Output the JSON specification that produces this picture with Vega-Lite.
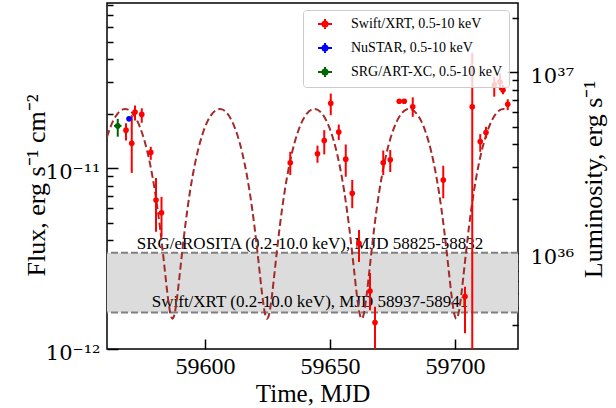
{
  "$schema": "https://vega.github.io/schema/vega-lite/v6.json",
  "width": 411,
  "height": 346,
  "autosize": {"type": "none"},
  "padding": {"left": 107, "top": 3, "right": 98, "bottom": 59},
  "background": "white",
  "config": {
    "view": {"stroke": "black", "strokeWidth": 1.5},
    "axis": {"grid": false, "domain": false, "tickColor": "black", "tickWidth": 1.5, "labelColor": "black", "titleColor": "black", "titleFontWeight": "normal", "titleFont": "Liberation Serif", "labelFont": "Liberation Serif"}
  },
  "datasets": {
    "band": [{"top": 3.40e-12, "bottom": 1.59e-12}],
    "bandlines": [{"f": 3.40e-12}, {"f": 1.59e-12}],
    "lumref": [{"L": 1e36}, {"L": 1e37}],
    "notes": [
      {"t": 59642, "f": 3.57e-12, "label": "SRG/eROSITA (0.2-10.0 keV), MJD 58825-58832"},
      {"t": 59642, "f": 1.705e-12, "label": "Swift/XRT (0.2-10.0 keV), MJD 58937-58941"}
    ],
    "curve": [
      {"t": 59560.8, "f": 1.484e-11}, {"t": 59562.15, "f": 1.680e-11}, {"t": 59563.15, "f": 1.810e-11}, {"t": 59565.15, "f": 2.008e-11}, {"t": 59567.15, "f": 2.110e-11}, {"t": 59568.08, "f": 2.121e-11},
      {"t": 59569.0, "f": 2.110e-11}, {"t": 59571.0, "f": 2.008e-11}, {"t": 59573.0, "f": 1.810e-11}, {"t": 59575.0, "f": 1.538e-11}, {"t": 59577.0, "f": 1.222e-11}, {"t": 59578.0, "f": 1.058e-11}, {"t": 59579.0, "f": 8.967e-12}, {"t": 59580.0, "f": 7.42e-12}, {"t": 59581.0, "f": 5.973e-12}, {"t": 59582.0, "f": 4.679e-12}, {"t": 59583.0, "f": 3.567e-12}, {"t": 59584.0, "f": 2.669e-12}, {"t": 59585.0, "f": 2.009e-12}, {"t": 59586.0, "f": 1.606e-12}, {"t": 59586.5, "f": 1.504e-12}, {"t": 59587.0, "f": 1.47e-12},
      {"t": 59587.5, "f": 1.504e-12}, {"t": 59588.0, "f": 1.606e-12}, {"t": 59589.0, "f": 2.009e-12}, {"t": 59590.0, "f": 2.669e-12}, {"t": 59591.0, "f": 3.567e-12}, {"t": 59592.0, "f": 4.679e-12}, {"t": 59593.0, "f": 5.973e-12}, {"t": 59594.0, "f": 7.42e-12}, {"t": 59595.0, "f": 8.967e-12}, {"t": 59596.0, "f": 1.058e-11}, {"t": 59597.0, "f": 1.222e-11}, {"t": 59599.0, "f": 1.538e-11}, {"t": 59601.0, "f": 1.810e-11}, {"t": 59603.0, "f": 2.008e-11}, {"t": 59605.0, "f": 2.110e-11}, {"t": 59605.93, "f": 2.121e-11},
      {"t": 59606.85, "f": 2.110e-11}, {"t": 59608.85, "f": 2.008e-11}, {"t": 59610.85, "f": 1.810e-11}, {"t": 59612.85, "f": 1.538e-11}, {"t": 59614.85, "f": 1.222e-11}, {"t": 59615.85, "f": 1.058e-11}, {"t": 59616.85, "f": 8.967e-12}, {"t": 59617.85, "f": 7.42e-12}, {"t": 59618.85, "f": 5.973e-12}, {"t": 59619.85, "f": 4.679e-12}, {"t": 59620.85, "f": 3.567e-12}, {"t": 59621.85, "f": 2.669e-12}, {"t": 59622.85, "f": 2.009e-12}, {"t": 59623.85, "f": 1.606e-12}, {"t": 59624.35, "f": 1.504e-12}, {"t": 59624.85, "f": 1.47e-12},
      {"t": 59625.35, "f": 1.504e-12}, {"t": 59625.85, "f": 1.606e-12}, {"t": 59626.85, "f": 2.009e-12}, {"t": 59627.85, "f": 2.669e-12}, {"t": 59628.85, "f": 3.567e-12}, {"t": 59629.85, "f": 4.679e-12}, {"t": 59630.85, "f": 5.973e-12}, {"t": 59631.85, "f": 7.42e-12}, {"t": 59632.85, "f": 8.967e-12}, {"t": 59633.85, "f": 1.058e-11}, {"t": 59634.85, "f": 1.222e-11}, {"t": 59636.85, "f": 1.538e-11}, {"t": 59638.85, "f": 1.810e-11}, {"t": 59640.85, "f": 2.008e-11}, {"t": 59642.85, "f": 2.110e-11}, {"t": 59643.78, "f": 2.121e-11},
      {"t": 59644.7, "f": 2.110e-11}, {"t": 59646.7, "f": 2.008e-11}, {"t": 59648.7, "f": 1.810e-11}, {"t": 59650.7, "f": 1.538e-11}, {"t": 59652.7, "f": 1.222e-11}, {"t": 59653.7, "f": 1.058e-11}, {"t": 59654.7, "f": 8.967e-12}, {"t": 59655.7, "f": 7.42e-12}, {"t": 59656.7, "f": 5.973e-12}, {"t": 59657.7, "f": 4.679e-12}, {"t": 59658.7, "f": 3.567e-12}, {"t": 59659.7, "f": 2.669e-12}, {"t": 59660.7, "f": 2.009e-12}, {"t": 59661.7, "f": 1.606e-12}, {"t": 59662.2, "f": 1.504e-12}, {"t": 59662.7, "f": 1.47e-12},
      {"t": 59663.2, "f": 1.504e-12}, {"t": 59663.7, "f": 1.606e-12}, {"t": 59664.7, "f": 2.009e-12}, {"t": 59665.7, "f": 2.669e-12}, {"t": 59666.7, "f": 3.567e-12}, {"t": 59667.7, "f": 4.679e-12}, {"t": 59668.7, "f": 5.973e-12}, {"t": 59669.7, "f": 7.42e-12}, {"t": 59670.7, "f": 8.967e-12}, {"t": 59671.7, "f": 1.058e-11}, {"t": 59672.7, "f": 1.222e-11}, {"t": 59674.7, "f": 1.538e-11}, {"t": 59676.7, "f": 1.810e-11}, {"t": 59678.7, "f": 2.008e-11}, {"t": 59680.7, "f": 2.110e-11}, {"t": 59681.63, "f": 2.121e-11},
      {"t": 59682.55, "f": 2.110e-11}, {"t": 59684.55, "f": 2.008e-11}, {"t": 59686.55, "f": 1.810e-11}, {"t": 59688.55, "f": 1.538e-11}, {"t": 59690.55, "f": 1.222e-11}, {"t": 59691.55, "f": 1.058e-11}, {"t": 59692.55, "f": 8.967e-12}, {"t": 59693.55, "f": 7.42e-12}, {"t": 59694.55, "f": 5.973e-12}, {"t": 59695.55, "f": 4.679e-12}, {"t": 59696.55, "f": 3.567e-12}, {"t": 59697.55, "f": 2.669e-12}, {"t": 59698.55, "f": 2.009e-12}, {"t": 59699.55, "f": 1.606e-12}, {"t": 59700.05, "f": 1.504e-12}, {"t": 59700.55, "f": 1.47e-12},
      {"t": 59701.05, "f": 1.504e-12}, {"t": 59701.55, "f": 1.606e-12}, {"t": 59702.55, "f": 2.009e-12}, {"t": 59703.55, "f": 2.669e-12}, {"t": 59704.55, "f": 3.567e-12}, {"t": 59705.55, "f": 4.679e-12}, {"t": 59706.55, "f": 5.973e-12}, {"t": 59707.55, "f": 7.42e-12}, {"t": 59708.55, "f": 8.967e-12}, {"t": 59709.55, "f": 1.058e-11}, {"t": 59710.55, "f": 1.222e-11}, {"t": 59712.55, "f": 1.538e-11}, {"t": 59714.55, "f": 1.810e-11}, {"t": 59716.55, "f": 2.008e-11}, {"t": 59718.55, "f": 2.110e-11}, {"t": 59719.48, "f": 2.121e-11}, {"t": 59721.1, "f": 2.085e-11}
    ],
    "obs": [
      {"inst": "Swift/XRT, 0.5-10 keV", "t": 59568.4, "f": 1.62e-11, "lo": 1.42e-11, "hi": 1.77e-11},
      {"inst": "Swift/XRT, 0.5-10 keV", "t": 59570.7, "f": 1.37e-11, "lo": 9.4e-12, "hi": 1.96e-11},
      {"inst": "Swift/XRT, 0.5-10 keV", "t": 59572.0, "f": 2.04e-11, "lo": 1.83e-11, "hi": 2.22e-11},
      {"inst": "Swift/XRT, 0.5-10 keV", "t": 59574.7, "f": 1.98e-11, "lo": 1.78e-11, "hi": 2.14e-11},
      {"inst": "Swift/XRT, 0.5-10 keV", "t": 59578.3, "f": 1.22e-11, "lo": 1.11e-11, "hi": 1.31e-11},
      {"inst": "Swift/XRT, 0.5-10 keV", "t": 59580.4, "f": 6.66e-12, "lo": 4.45e-12, "hi": 8.8e-12},
      {"inst": "Swift/XRT, 0.5-10 keV", "t": 59582.6, "f": 5.66e-12, "lo": 4.17e-12, "hi": 6.93e-12},
      {"inst": "Swift/XRT, 0.5-10 keV", "t": 59634.1, "f": 1.07e-11, "lo": 9.15e-12, "hi": 1.23e-11},
      {"inst": "Swift/XRT, 0.5-10 keV", "t": 59645.0, "f": 1.20e-11, "lo": 1.07e-11, "hi": 1.33e-11},
      {"inst": "Swift/XRT, 0.5-10 keV", "t": 59647.7, "f": 1.42e-11, "lo": 1.19e-11, "hi": 1.62e-11},
      {"inst": "Swift/XRT, 0.5-10 keV", "t": 59650.3, "f": 2.28e-11, "lo": 1.96e-11, "hi": 2.58e-11},
      {"inst": "Swift/XRT, 0.5-10 keV", "t": 59653.5, "f": 1.58e-11, "lo": 1.43e-11, "hi": 1.74e-11},
      {"inst": "Swift/XRT, 0.5-10 keV", "t": 59656.3, "f": 1.12e-11, "lo": 8.95e-12, "hi": 1.35e-11},
      {"inst": "Swift/XRT, 0.5-10 keV", "t": 59658.9, "f": 7.25e-12, "lo": 6.0e-12, "hi": 8.6e-12},
      {"inst": "Swift/XRT, 0.5-10 keV", "t": 59661.6, "f": 3.84e-12, "lo": 3.03e-12, "hi": 4.54e-12},
      {"inst": "Swift/XRT, 0.5-10 keV", "t": 59666.0, "f": 2.09e-12, "lo": 1.64e-12, "hi": 2.63e-12},
      {"inst": "Swift/XRT, 0.5-10 keV", "t": 59668.0, "f": 1.40e-12, "lo": 8e-13, "hi": 1.71e-12},
      {"inst": "Swift/XRT, 0.5-10 keV", "t": 59671.3, "f": 1.07e-11, "lo": 9.15e-12, "hi": 1.25e-11},
      {"inst": "Swift/XRT, 0.5-10 keV", "t": 59674.1, "f": 1.11e-11, "lo": 9.5e-12, "hi": 1.26e-11},
      {"inst": "Swift/XRT, 0.5-10 keV", "t": 59677.7, "f": 2.34e-11, "lo": 2.28e-11, "hi": 2.40e-11},
      {"inst": "Swift/XRT, 0.5-10 keV", "t": 59679.7, "f": 2.34e-11, "lo": 2.28e-11, "hi": 2.40e-11},
      {"inst": "Swift/XRT, 0.5-10 keV", "t": 59683.1, "f": 2.18e-11, "lo": 1.92e-11, "hi": 2.46e-11},
      {"inst": "Swift/XRT, 0.5-10 keV", "t": 59695.3, "f": 8.59e-12, "lo": 6.8e-12, "hi": 1.03e-11},
      {"inst": "Swift/XRT, 0.5-10 keV", "t": 59704.0, "f": 1.95e-12, "lo": 1.22e-12, "hi": 2.21e-12},
      {"inst": "Swift/XRT, 0.5-10 keV", "t": 59706.9, "f": 2.18e-11, "lo": 5e-13, "hi": 4.34e-11},
      {"inst": "Swift/XRT, 0.5-10 keV", "t": 59710.1, "f": 1.40e-11, "lo": 1.23e-11, "hi": 1.54e-11},
      {"inst": "Swift/XRT, 0.5-10 keV", "t": 59712.4, "f": 1.57e-11, "lo": 1.46e-11, "hi": 1.69e-11},
      {"inst": "Swift/XRT, 0.5-10 keV", "t": 59715.7, "f": 2.88e-11, "lo": 2.48e-11, "hi": 3.2e-11},
      {"inst": "Swift/XRT, 0.5-10 keV", "t": 59718.0, "f": 2.99e-11, "lo": 2.70e-11, "hi": 3.33e-11},
      {"inst": "Swift/XRT, 0.5-10 keV", "t": 59719.2, "f": 2.70e-11, "lo": 2.56e-11, "hi": 2.88e-11},
      {"inst": "Swift/XRT, 0.5-10 keV", "t": 59721.1, "f": 2.25e-11, "lo": 2.09e-11, "hi": 2.40e-11},
      {"inst": "NuSTAR, 0.5-10 keV", "t": 59569.6, "f": 1.87e-11, "lo": 1.82e-11, "hi": 1.92e-11},
      {"inst": "SRG/ART-XC, 0.5-10 keV", "t": 59565.1, "f": 1.71e-11, "lo": 1.49e-11, "hi": 1.87e-11}
    ],
    "xerr": [{"inst": "SRG/ART-XC, 0.5-10 keV", "t1": 59563.6, "t2": 59566.6, "f": 1.71e-11}]
  },
  "resolve": {"scale": {"y": "independent"}, "axis": {"x": "independent"}},
  "layer": [
    {
      "data": {"name": "band"},
      "mark": {"type": "rect", "color": "#dcdcdc"},
      "encoding": {
        "y": {"field": "top", "type": "quantitative", "scale": {"type": "log", "domain": [1e-12, 8.17e-11], "nice": false},
          "axis": {"orient": "left", "values": [1e-12, 1e-11], "ticks": false, "tickSize": 0, "labelPadding": 7, "labelOffset": 4, "labelFont": "DejaVu Serif", "labelFontSize": 21, "labelExpr": "datum.value < 5e-12 ? '10⁻¹²' : '10⁻¹¹'",
            "title": "Flux, erg s⁻¹ cm⁻²", "titleFontSize": 26, "titleAngle": 270, "titleX": -63, "titleY": 182, "titleBaseline": "alphabetic", "titleAlign": "center"}},
        "y2": {"field": "bottom"}
      }
    },
    {
      "data": {"name": "bandlines"},
      "mark": {"type": "rule", "color": "#808080", "strokeWidth": 2, "strokeDash": [7, 3]},
      "encoding": {
        "y": {"field": "f", "type": "quantitative", "scale": {"type": "log", "domain": [1e-12, 8.17e-11], "nice": false},
          "axis": {"orient": "left", "values": [1e-12, 1e-11], "offset": -11, "tickSize": 11, "labels": false, "title": null}}
      }
    },
    {
      "data": {"name": "bandlines"},
      "mark": {"type": "rule", "opacity": 0},
      "encoding": {
        "y": {"field": "f", "type": "quantitative", "scale": {"type": "log", "domain": [1e-12, 8.17e-11], "nice": false},
          "axis": {"orient": "left", "values": [2e-12, 3e-12, 4e-12, 5e-12, 6e-12, 7e-12, 8e-12, 9e-12, 2e-11, 3e-11, 4e-11, 5e-11, 6e-11, 7e-11, 8e-11], "offset": -6, "tickSize": 6, "labels": false, "title": null}}
      }
    },
    {
      "data": {"name": "lumref"},
      "mark": {"type": "point", "opacity": 0},
      "encoding": {
        "y": {"field": "L", "type": "quantitative", "scale": {"type": "log", "domain": [2.95e35, 2.41e37], "nice": false},
          "axis": {"orient": "right", "values": [1e36, 1e37], "ticks": false, "tickSize": 0, "labelPadding": 12, "labelOffset": 4, "labelFont": "DejaVu Serif", "labelFontSize": 21, "labelAlign": "left", "labelExpr": "datum.value < 5e36 ? '10³⁶' : '10³⁷'",
            "title": "Luminosity, erg s⁻¹", "titleFontSize": 26, "titleAngle": 270, "titleX": 83, "titleY": 176, "titleBaseline": "alphabetic", "titleAlign": "center"}}
      }
    },
    {
      "data": {"name": "lumref"},
      "mark": {"type": "point", "opacity": 0},
      "encoding": {
        "y": {"field": "L", "type": "quantitative", "scale": {"type": "log", "domain": [2.95e35, 2.41e37], "nice": false},
          "axis": {"orient": "right", "values": [1e36, 1e37], "offset": -11, "tickSize": 11, "labels": false, "title": null}}
      }
    },
    {
      "data": {"name": "lumref"},
      "mark": {"type": "point", "opacity": 0},
      "encoding": {
        "y": {"field": "L", "type": "quantitative", "scale": {"type": "log", "domain": [2.95e35, 2.41e37], "nice": false},
          "axis": {"orient": "right", "values": [4e35, 5e35, 6e35, 7e35, 8e35, 9e35, 2e36, 3e36, 4e36, 5e36, 6e36, 7e36, 8e36, 9e36, 2e37], "offset": -6, "tickSize": 6, "labels": false, "title": null}}
      }
    },
    {
      "data": {"name": "notes"},
      "mark": {"type": "text", "font": "Liberation Serif", "fontSize": 17, "align": "center", "baseline": "alphabetic", "color": "black"},
      "encoding": {
        "x": {"field": "t", "type": "quantitative", "scale": {"domain": [59560.8, 59725.2], "nice": false, "zero": false},
          "axis": {"orient": "bottom", "values": [59600, 59650, 59700], "format": "d", "ticks": false, "tickSize": 0, "labelPadding": 5, "labelFontSize": 24, "labelFlush": false,
            "title": "Time, MJD", "titleFontSize": 25, "titleY": 52, "titleBaseline": "alphabetic"}},
        "y": {"field": "f", "type": "quantitative", "scale": {"type": "log", "domain": [1e-12, 8.17e-11], "nice": false}, "axis": null},
        "text": {"field": "label"}
      }
    },
    {
      "data": {"name": "curve"},
      "mark": {"type": "line", "color": "#a52a2a", "strokeWidth": 2, "strokeDash": [7, 3.5], "interpolate": "monotone", "clip": true},
      "encoding": {
        "x": {"field": "t", "type": "quantitative", "scale": {"domain": [59560.8, 59725.2], "nice": false, "zero": false},
          "axis": {"orient": "bottom", "values": [59600, 59650, 59700], "offset": -10, "tickSize": 10, "labels": false, "title": null}},
        "y": {"field": "f", "type": "quantitative", "scale": {"type": "log", "domain": [1e-12, 8.17e-11], "nice": false}, "axis": null}
      }
    },
    {
      "data": {"name": "obs"},
      "mark": {"type": "rule", "strokeWidth": 2, "clip": true},
      "encoding": {
        "x": {"field": "t", "type": "quantitative", "scale": {"domain": [59560.8, 59725.2], "nice": false, "zero": false}, "axis": null},
        "y": {"field": "lo", "type": "quantitative", "scale": {"type": "log", "domain": [1e-12, 8.17e-11], "nice": false}, "axis": null},
        "y2": {"field": "hi"},
        "color": {"condition": [{"test": "datum.inst == 'NuSTAR, 0.5-10 keV'", "value": "#0000ff"}, {"test": "datum.inst == 'SRG/ART-XC, 0.5-10 keV'", "value": "#006400"}], "value": "#ff0000"}
      }
    },
    {
      "data": {"name": "xerr"},
      "mark": {"type": "rule", "strokeWidth": 2, "clip": true, "color": "#006400"},
      "encoding": {
        "x": {"field": "t1", "type": "quantitative", "scale": {"domain": [59560.8, 59725.2], "nice": false, "zero": false}, "axis": null},
        "x2": {"field": "t2"},
        "y": {"field": "f", "type": "quantitative", "scale": {"type": "log", "domain": [1e-12, 8.17e-11], "nice": false}, "axis": null}
      }
    },
    {
      "data": {"name": "obs"},
      "mark": {"type": "point", "filled": true, "size": 32, "opacity": 1, "clip": true},
      "encoding": {
        "x": {"field": "t", "type": "quantitative", "scale": {"domain": [59560.8, 59725.2], "nice": false, "zero": false}, "axis": null},
        "y": {"field": "f", "type": "quantitative", "scale": {"type": "log", "domain": [1e-12, 8.17e-11], "nice": false}, "axis": null},
        "color": {"field": "inst", "type": "nominal", "scale": {"domain": ["Swift/XRT, 0.5-10 keV", "NuSTAR, 0.5-10 keV", "SRG/ART-XC, 0.5-10 keV"], "range": ["#ff0000", "#0000ff", "#006400"]},
          "legend": {"title": null, "orient": "none", "legendX": 196, "legendY": 7, "padding": 6, "rowPadding": 6, "cornerRadius": 3, "strokeColor": "#cccccc", "fillColor": "rgba(255,255,255,0.8)",
            "symbolType": "M-1,0L1,0M0,-0.7L0,0.7M0.36,0A0.36,0.36,0,1,1,-0.36,0A0.36,0.36,0,1,1,0.36,0Z", "symbolSize": 196, "symbolStrokeWidth": 2, "symbolOffset": 8, "symbolOpacity": 1,
            "labelOffset": 18, "labelFont": "Liberation Serif", "labelFontSize": 14, "labelColor": "black", "labelLimit": 300,
            "encode": {"symbols": {"update": {"stroke": {"scale": "color", "field": "value"}, "strokeWidth": {"value": 2}}}}}}
      }
    }
  ]
}
